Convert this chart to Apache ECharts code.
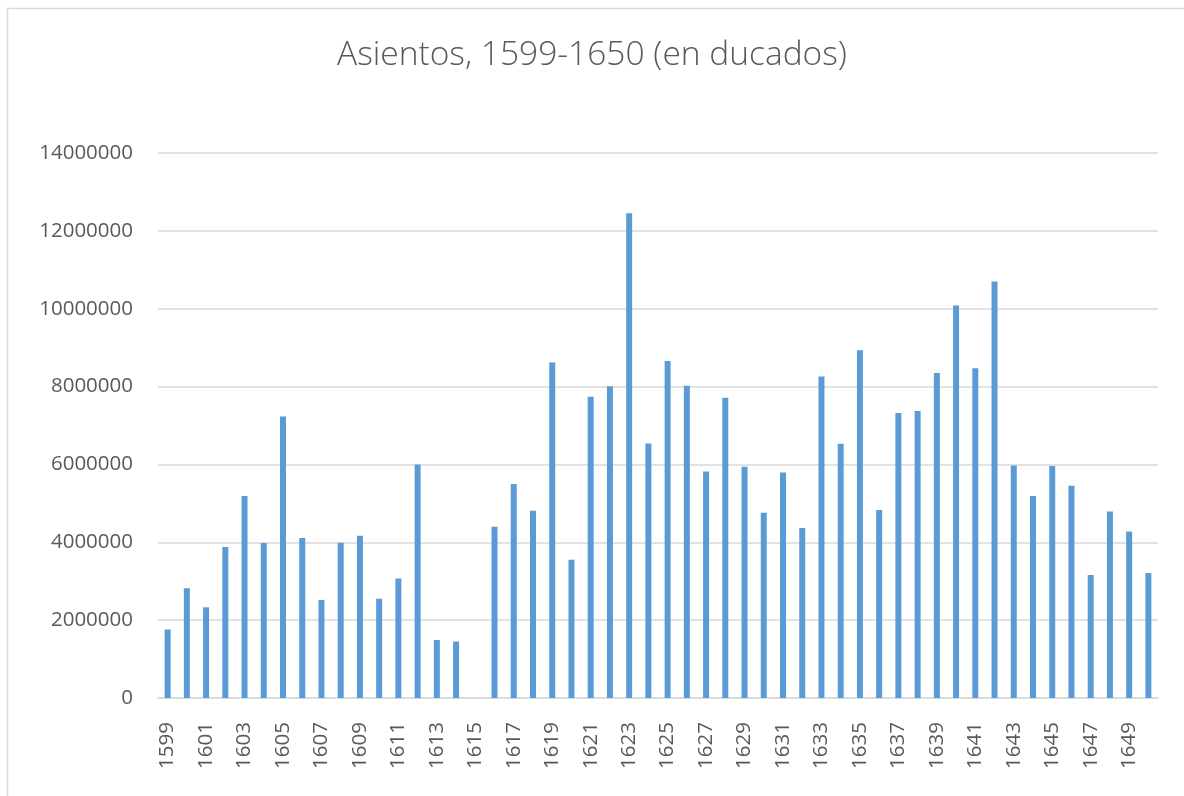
<!DOCTYPE html>
<html>
<head>
<meta charset="utf-8">
<script src="https://cdn.jsdelivr.net/npm/echarts@6/dist/echarts.min.js"></script>
<style>
html,body{margin:0;padding:0;background:#fff;}
#chart{width:1184px;height:796px;}
</style>
</head>
<body>
<div id="chart"></div>
<script>
const years = [];
for (let y = 1599; y <= 1650; y++) years.push(String(y));

const asientos = [
  1760000, 2820000, 2330000, 3880000, 5190000, 3980000, 7230000, 4110000, 2520000, 3990000,
  4170000, 2550000, 3070000, 6000000, 1490000, 1450000, 0, 4400000, 5500000, 4810000,
  8620000, 3550000, 7740000, 8010000, 12450000, 6540000, 8660000, 8020000, 5820000, 7710000,
  5940000, 4760000, 5790000, 4370000, 8260000, 6530000, 8930000, 4830000, 7320000, 7370000,
  8350000, 10080000, 8470000, 10700000, 5970000, 5190000, 5960000, 5450000, 3160000, 4790000,
  4280000, 3210000
];

const titleText = 'Asientos, 1599-1650 (en ducados)';

const chart = echarts.init(document.getElementById('chart'));
chart.setOption({
  animation: false,
  backgroundColor: '#ffffff',
  graphic: [{
    type: 'rect',
    shape: { x: 7.5, y: 8.5, width: 1200, height: 800 },
    style: { fill: 'none', stroke: '#d9d9d9', lineWidth: 1.5 },
    silent: true
  }],
  title: {
    text: titleText,
    left: 'center',
    top: 33,
    textStyle: {
      fontFamily: '"Open Sans", "Noto Sans", sans-serif',
      fontWeight: 300,
      fontSize: 33.5,
      color: '#595959'
    }
  },
  grid: { left: 158, right: 26, top: 153, bottom: 98, containLabel: false },
  xAxis: {
    type: 'category',
    data: years,
    axisLine: { lineStyle: { color: '#d9d9d9', width: 1.5 } },
    axisTick: { show: false },
    axisLabel: {
      interval: 1,
      rotate: 90,
      margin: 24,
      fontSize: 20.5,
      color: '#595959',
      fontFamily: '"Open Sans", "Noto Sans", sans-serif'
    }
  },
  yAxis: {
    type: 'value',
    min: 0,
    max: 14000000,
    interval: 2000000,
    axisLine: { show: false },
    axisTick: { show: false },
    splitLine: { lineStyle: { color: '#d9d9d9', width: 1.5 } },
    axisLabel: {
      margin: 25,
      fontSize: 20.5,
      color: '#595959',
      fontFamily: '"Open Sans", "Noto Sans", sans-serif',
      formatter: function (v) { return String(v); }
    }
  },
  series: [{
    type: 'bar',
    data: asientos,
    barWidth: 6,
    itemStyle: { color: '#5b9bd5' }
  }]
});
</script>
</body>
</html>
